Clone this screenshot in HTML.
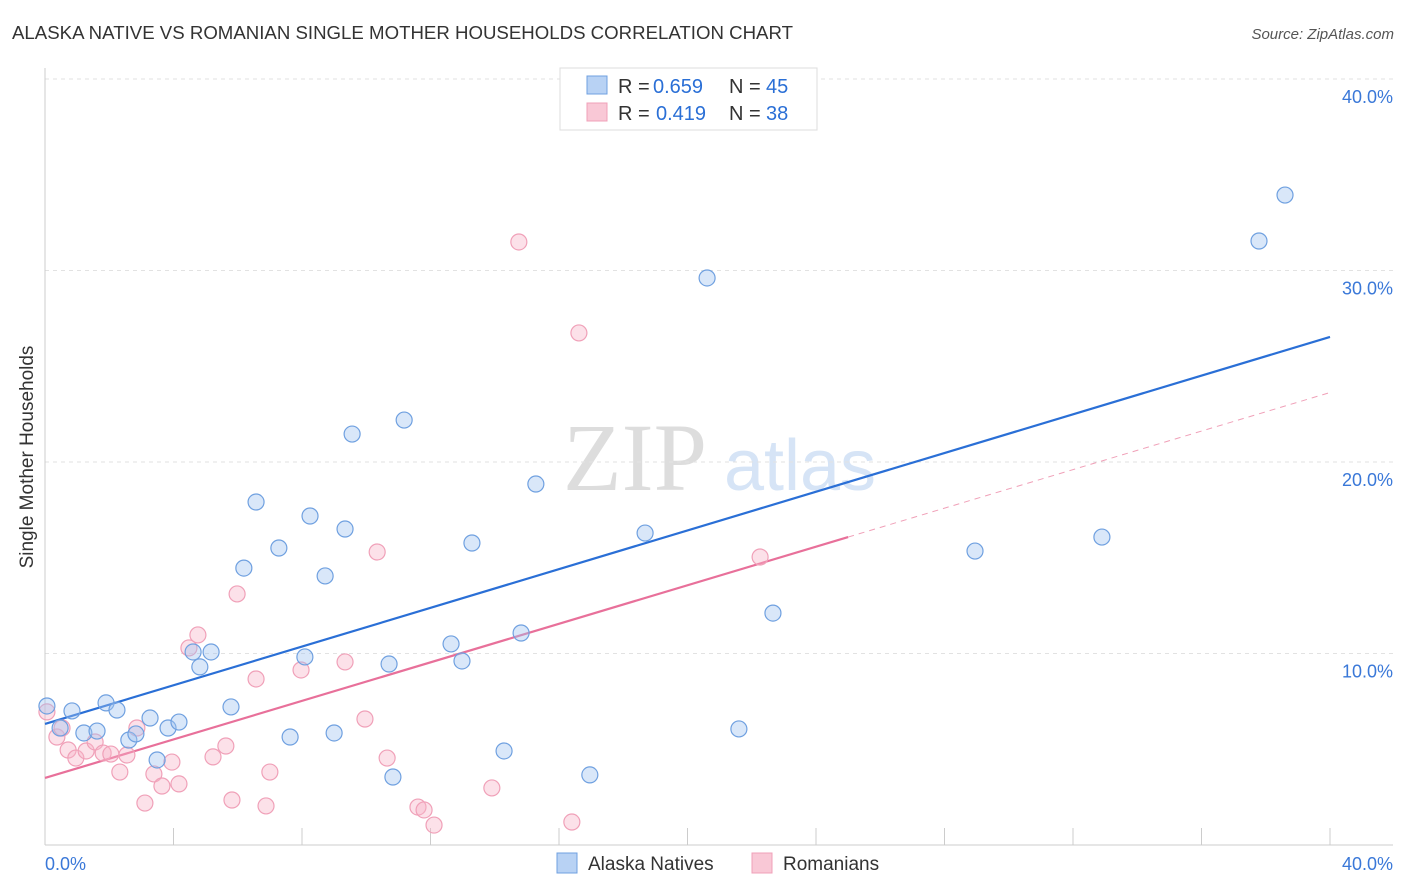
<!DOCTYPE html>
<html><head><meta charset="utf-8"><style>
body{margin:0;background:#fff;font-family:"Liberation Sans",sans-serif;}
svg{display:block}
</style></head><body>
<svg id="chart" width="1406" height="892">
<text x="12" y="39" font-size="18.6" fill="#333" textLength="781" lengthAdjust="spacingAndGlyphs">ALASKA NATIVE VS ROMANIAN SINGLE MOTHER HOUSEHOLDS CORRELATION CHART</text>
<text x="1394" y="39" font-size="15" fill="#555" font-style="italic" text-anchor="end">Source: ZipAtlas.com</text>
<text x="33" y="457" font-size="19" fill="#333" text-anchor="middle" transform="rotate(-90 33 457)">Single Mother Households</text>
<g>
<text x="635" y="490" font-size="96" fill="#ddd" font-family="Liberation Serif,serif" text-anchor="middle">ZIP</text>
<text x="800" y="490" font-size="72" fill="#d6e4f6" text-anchor="middle">atlas</text>
</g>
<g id="grid"></g><g id="axes"></g><g id="lines"></g><g id="pts"></g>
<g>
<rect x="560" y="68" width="257" height="62" fill="#fff" stroke="#ddd"/>
<rect x="587" y="76" width="20" height="18" fill="#b8d2f4" stroke="#6fa0e0"/>
<rect x="587" y="103" width="20" height="18" fill="#f9c8d6" stroke="#f0a0b8"/>
<g font-size="20" fill="#333">
<text x="618" y="93">R =</text><text x="653" y="93" fill="#2a6fd6">0.659</text>
<text x="729" y="93">N =</text><text x="766" y="93" fill="#2a6fd6">45</text>
<text x="618" y="120">R =</text><text x="656" y="120" fill="#2a6fd6">0.419</text>
<text x="729" y="120">N =</text><text x="766" y="120" fill="#2a6fd6">38</text>
</g>
</g>
<g>
<rect x="557" y="853" width="20" height="20" fill="#b8d2f4" stroke="#6fa0e0"/>
<text x="588" y="870" font-size="19" fill="#333">Alaska Natives</text>
<rect x="752" y="853" width="20" height="20" fill="#f9c8d6" stroke="#f0a0b8"/>
<text x="783" y="870" font-size="19" fill="#333">Romanians</text>
</g>
</svg>
<script>
const blueX=[0.06,0.84,0.47,1.21,1.62,1.90,2.24,2.61,2.83,3.27,3.49,3.83,4.17,4.61,4.82,5.17,5.79,6.19,6.57,7.28,7.63,8.09,8.25,8.72,9.00,9.34,9.56,10.71,10.83,11.18,12.64,12.98,13.29,14.29,14.82,15.28,16.96,18.68,20.61,21.60,22.66,28.95,32.90,37.79,38.60];
const blueY=[7.26,7.0,6.11,5.85,5.95,7.42,7.05,5.48,5.80,6.63,4.44,6.11,6.42,10.08,9.30,10.08,7.21,14.46,17.91,15.51,5.64,9.82,17.18,14.05,5.85,16.50,21.46,9.45,3.55,22.19,10.50,9.61,15.77,4.91,11.07,18.85,3.66,16.29,29.61,6.06,12.11,15.35,16.08,31.54,33.94];
const pinkX=[0.06,0.37,0.53,0.72,0.96,1.28,1.56,1.81,2.05,2.33,2.55,2.86,3.11,3.39,3.64,3.95,4.17,4.48,4.76,5.23,5.63,5.82,5.98,6.57,6.88,7.00,7.97,9.34,9.96,10.34,10.65,11.61,11.80,12.11,13.91,14.75,16.40,16.62,22.26];
const pinkY=[6.95,5.64,6.11,4.96,4.54,4.91,5.38,4.80,4.75,3.81,4.70,6.11,2.19,3.71,3.08,4.33,3.19,10.29,10.97,4.60,5.17,2.35,13.11,8.67,2.04,3.81,9.14,9.56,6.58,15.30,4.54,1.98,1.83,1.04,2.98,31.49,1.20,26.74,15.04];
const blueFit=[6.32,0.5053];
const pinkFit=[3.50,0.5032];
const pinkSolidEnd=25;
const yTicks=[10,20,30,40];
const xTickLabels=["0.0%","40.0%"];
const NS="http://www.w3.org/2000/svg";
const X=v=>45+v*32.125, Y=v=>845-v*19.15;
function mk(t,a,p){const e=document.createElementNS(NS,t);for(const k in a)e.setAttribute(k,a[k]);p.appendChild(e);return e;}
const grid=document.getElementById('grid'),axes=document.getElementById('axes'),lines=document.getElementById('lines'),pts=document.getElementById('pts');
yTicks.forEach(t=>{
 const l=mk('line',{x1:45,x2:1393,y1:Y(t),y2:Y(t),stroke:'#e2e2e2','stroke-dasharray':'4,4'},grid);
 
 
 const tx=mk('text',{x:1393,y:Y(t)+24,'font-size':18,fill:'#3a78d8','text-anchor':'end'},axes);tx.textContent=t.toFixed(1)+'%';
 
 
});
mk('line',{x1:45,x2:45,y1:68,y2:845,stroke:'#ccc'},axes);
mk('line',{x1:45,x2:1393,y1:845,y2:845,stroke:'#ccc'},axes);
for(let i=0;i<=10;i++){mk('line',{x1:X(i*4),x2:X(i*4),y1:828,y2:845,stroke:'#ccc'},axes);}
const l0=mk('text',{x:45,y:870,'font-size':18,fill:'#3a78d8'},axes);l0.textContent=xTickLabels[0];


const l1=mk('text',{x:1393,y:870,'font-size':18,fill:'#3a78d8','text-anchor':'end'},axes);l1.textContent=xTickLabels[1];


function dots(xs,ys,fill,stroke,name){xs.forEach((x,i)=>{const c=mk('circle',{cx:X(x),cy:Y(ys[i]),r:8,fill:fill,stroke:stroke,'stroke-width':1.2},pts);
 
 });}
dots(pinkX,pinkY,'rgba(248,180,200,0.4)','#f0a0b8','romanian');
dots(blueX,blueY,'rgba(160,196,240,0.4)','#6fa0e0','alaska');
const bl=mk('line',{x1:X(0),y1:Y(blueFit[0]),x2:X(40),y2:Y(blueFit[0]+40*blueFit[1]),stroke:'#2a6fd6','stroke-width':2.2},lines);


const pl=mk('line',{x1:X(0),y1:Y(pinkFit[0]),x2:X(pinkSolidEnd),y2:Y(pinkFit[0]+pinkSolidEnd*pinkFit[1]),stroke:'#e8709a','stroke-width':2.2},lines);


const pd=mk('line',{x1:X(pinkSolidEnd),y1:Y(pinkFit[0]+pinkSolidEnd*pinkFit[1]),x2:X(40),y2:Y(pinkFit[0]+40*pinkFit[1]),stroke:'#f0a0b8','stroke-width':1,'stroke-dasharray':'6,5'},lines);


</script>
</body></html>
